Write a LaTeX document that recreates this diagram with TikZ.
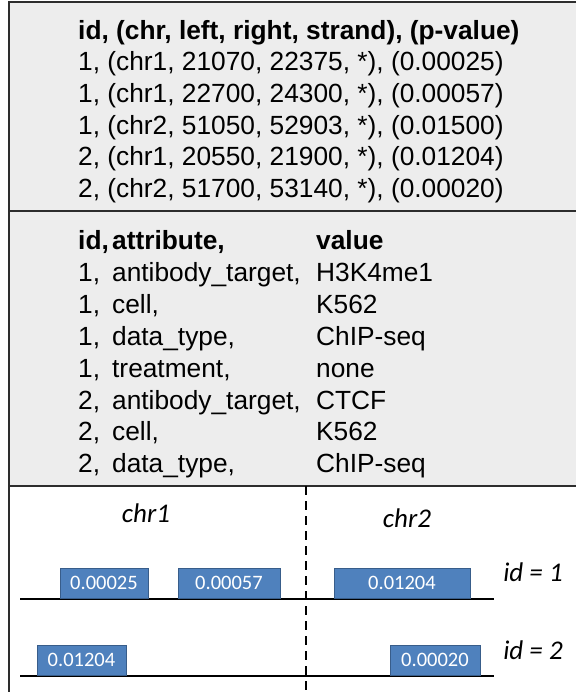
\documentclass[tikz,border=0pt]{standalone}
\usepackage{fontspec}
\setmainfont{Liberation Sans}
\newfontfamily\calibri{Carlito}
\usetikzlibrary{positioning}
\definecolor{panelgray}{RGB}{237,237,237}
\definecolor{framegray}{RGB}{45,45,45}
\definecolor{peakblue}{RGB}{79,129,189}
\definecolor{peakedge}{RGB}{56,93,138}

\begin{document}
\begin{tikzpicture}[x=1pt, y=-1pt,
    rows/.style={anchor=north west, inner sep=0pt, font=\fontsize{26.3}{31.6}\selectfont},
    peak/.style={rectangle, fill=peakblue, draw=peakedge, line width=0.8pt, minimum height=30pt, inner sep=0pt, text=white, font=\calibri\fontsize{20.5}{24}\selectfont},
    label/.style={inner sep=0pt, font=\calibri\itshape\fontsize{27}{30}\selectfont},
    track/.style={line width=2.3pt},
    divider/.style={line width=2.5pt, dash pattern=on 9pt off 6pt},
    frame/.style={draw=framegray, line width=2pt}
]
\useasboundingbox (0,0) rectangle (576,692);
% Panels
\fill[panelgray] (8,2) rectangle (576,486);
\draw[frame] (576,2) -- (8.5,2) -- (8.5,692);
\draw[frame] (8,211.5) -- (576,211.5);
\draw[frame] (8,486) -- (576,486);

% Regions table
\node[rows] at (78,17) (regions) {\begin{tabular}[t]{@{}l@{}}
\textbf{id, (chr, left, right, strand), (p-value)}\\
1, (chr1, 21070, 22375, *), (0.00025)\\
1, (chr1, 22700, 24300, *), (0.00057)\\
1, (chr2, 51050, 52903, *), (0.01500)\\
2, (chr1, 20550, 21900, *), (0.01204)\\
2, (chr2, 51700, 53140, *), (0.00020)
\end{tabular}};

% Metadata table
\node[rows, font=\fontsize{26.3}{31.9}\selectfont] at (78,227) (meta) {\begin{tabular}[t]{@{}p{34pt}@{}p{204pt}@{}l@{}}
\textbf{id,} & \textbf{attribute,} & \textbf{value}\\
1, & antibody\_target, & H3K4me1\\
1, & cell, & K562\\
1, & data\_type, & ChIP-seq\\
1, & treatment, & none\\
2, & antibody\_target, & CTCF\\
2, & cell, & K562\\
2, & data\_type, & ChIP-seq
\end{tabular}};

% Tracks
\node[label] at (146,513) (chrA) {chr1};
\node[label] at (407,518) (chrB) {chr2};
\node[label] at (533,572) (idA) {id = 1};
\node[label] at (533,650) (idB) {id = 2};

\coordinate (trackAl) at (20,599);
\coordinate (trackAr) at (494,599);
\coordinate (trackBl) at (20,676);
\coordinate (trackBr) at (494,676);
\draw[track] (trackAl) -- (trackAr);
\draw[track] (trackBl) -- (trackBr);

\coordinate (divtop) at (306,486);
\coordinate (divbot) at (306,692);
\draw[divider] (divtop) -- (divbot);

\node[peak, minimum width=88pt]  at (104,583)   (p1) {0.00025};
\node[peak, minimum width=102pt] at (229,583)   (p2) {0.00057};
\node[peak, minimum width=136pt] at (402,583)   (p3) {0.01204};
\node[peak, minimum width=89pt]  at (81.5,660)  (p4) {0.01204};
\node[peak, minimum width=90pt]  at (435,660)   (p5) {0.00020};
\end{tikzpicture}
\end{document}
